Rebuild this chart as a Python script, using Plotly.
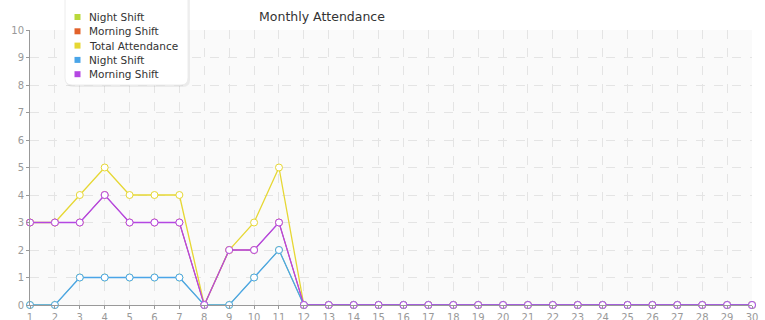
import plotly.graph_objects as go

days = list(range(1, 31))
night_shift = [0, 0, 1, 1, 1, 1, 1, 0, 0, 1, 2, 0] + [0] * 18
morning_shift = [3, 3, 3, 4, 3, 3, 3, 0, 2, 2, 3, 0] + [0] * 18
total_attendance = [3, 3, 4, 5, 4, 4, 4, 0, 2, 3, 5, 0] + [0] * 18

series_names = ["Night Shift", "Morning Shift", "Total Attendance", "Night Shift", "Morning Shift"]
series_values = [night_shift, morning_shift, total_attendance, night_shift, morning_shift]
series_colors = ["#b9d83a", "#e2622b", "#e6d733", "#4aa5e8", "#b447e3"]

W, H = 765, 320
L, R, T, B = 30, 13, 30, 15
PW, PH = W - L - R, H - T - B


def px(x):
    return (x - L) / PW


def py(y):
    return (H - B - y) / PH


fig = go.Figure()
for i, (name, vals, col) in enumerate(zip(series_names, series_values, series_colors)):
    fig.add_trace(go.Scatter(
        x=days, y=vals, mode="lines+markers", name=name, showlegend=False,
        line=dict(color=col, width=1 if i < 2 else 1.3),
        marker=dict(symbol="circle", size=7, color="white", line=dict(color=col, width=1)),
        cliponaxis=False,
    ))


def rounded_box(x0, y0, x1, y1, r):
    def P(x, y):
        return f"{px(x):.5f},{py(y):.5f}"
    return (f"M {P(x0 + r, y0)} L {P(x1 - r, y0)} Q {P(x1, y0)} {P(x1, y0 + r)} "
            f"L {P(x1, y1 - r)} Q {P(x1, y1)} {P(x1 - r, y1)} "
            f"L {P(x0 + r, y1)} Q {P(x0, y1)} {P(x0, y1 - r)} "
            f"L {P(x0, y0 + r)} Q {P(x0, y0)} {P(x0 + r, y0)} Z")


# legend box with soft shadow
fig.add_shape(type="path", path=rounded_box(66, -10, 190, 87, 7), xref="paper", yref="paper",
              fillcolor="rgba(0,0,0,0.06)", line=dict(width=0), layer="above")
fig.add_shape(type="path", path=rounded_box(65, -10, 188, 85, 7), xref="paper", yref="paper",
              fillcolor="white", line=dict(color="#ececec", width=1), layer="above")

item_y = [17, 31.3, 45.6, 59.9, 74.2]
for name, col, yy in zip(series_names, series_colors, item_y):
    fig.add_shape(type="rect", xref="paper", yref="paper",
                  x0=px(74.5), x1=px(80.5), y0=py(yy + 3), y1=py(yy - 3),
                  fillcolor=col, line=dict(width=0), layer="above")
    fig.add_annotation(text=name, xref="paper", yref="paper", x=px(86.5), y=py(yy),
                       xanchor="left", yanchor="middle", showarrow=False,
                       font=dict(family="DejaVu Sans", size=10.5, color="#333333"))

fig.update_layout(
    width=W, height=H,
    margin=dict(l=L, r=R, t=T, b=B),
    paper_bgcolor="white",
    plot_bgcolor="#fafafa",
    showlegend=False,
    font=dict(family="DejaVu Sans", size=10, color="#999999"),
    title=dict(text="Monthly Attendance", x=322 / W, xanchor="center", xref="container",
               y=1 - 17 / H, yanchor="middle", yref="container",
               font=dict(family="DejaVu Sans", size=12.5, color="#333333")),
    xaxis=dict(range=[1, 30], tickmode="array", tickvals=days, showgrid=True,
               gridcolor="#e4e4e4", griddash="dash", zeroline=False,
               showline=True, linecolor="#999999", linewidth=1,
               ticks="outside", ticklen=3, tickcolor="#999999", automargin=False),
    yaxis=dict(range=[0, 10], dtick=1, showgrid=True, gridcolor="#e4e4e4", griddash="dash",
               zeroline=False, showline=True, linecolor="#999999", linewidth=1,
               ticks="outside", ticklen=3, tickcolor="#999999", automargin=False),
)

fig.write_html("out.html")
